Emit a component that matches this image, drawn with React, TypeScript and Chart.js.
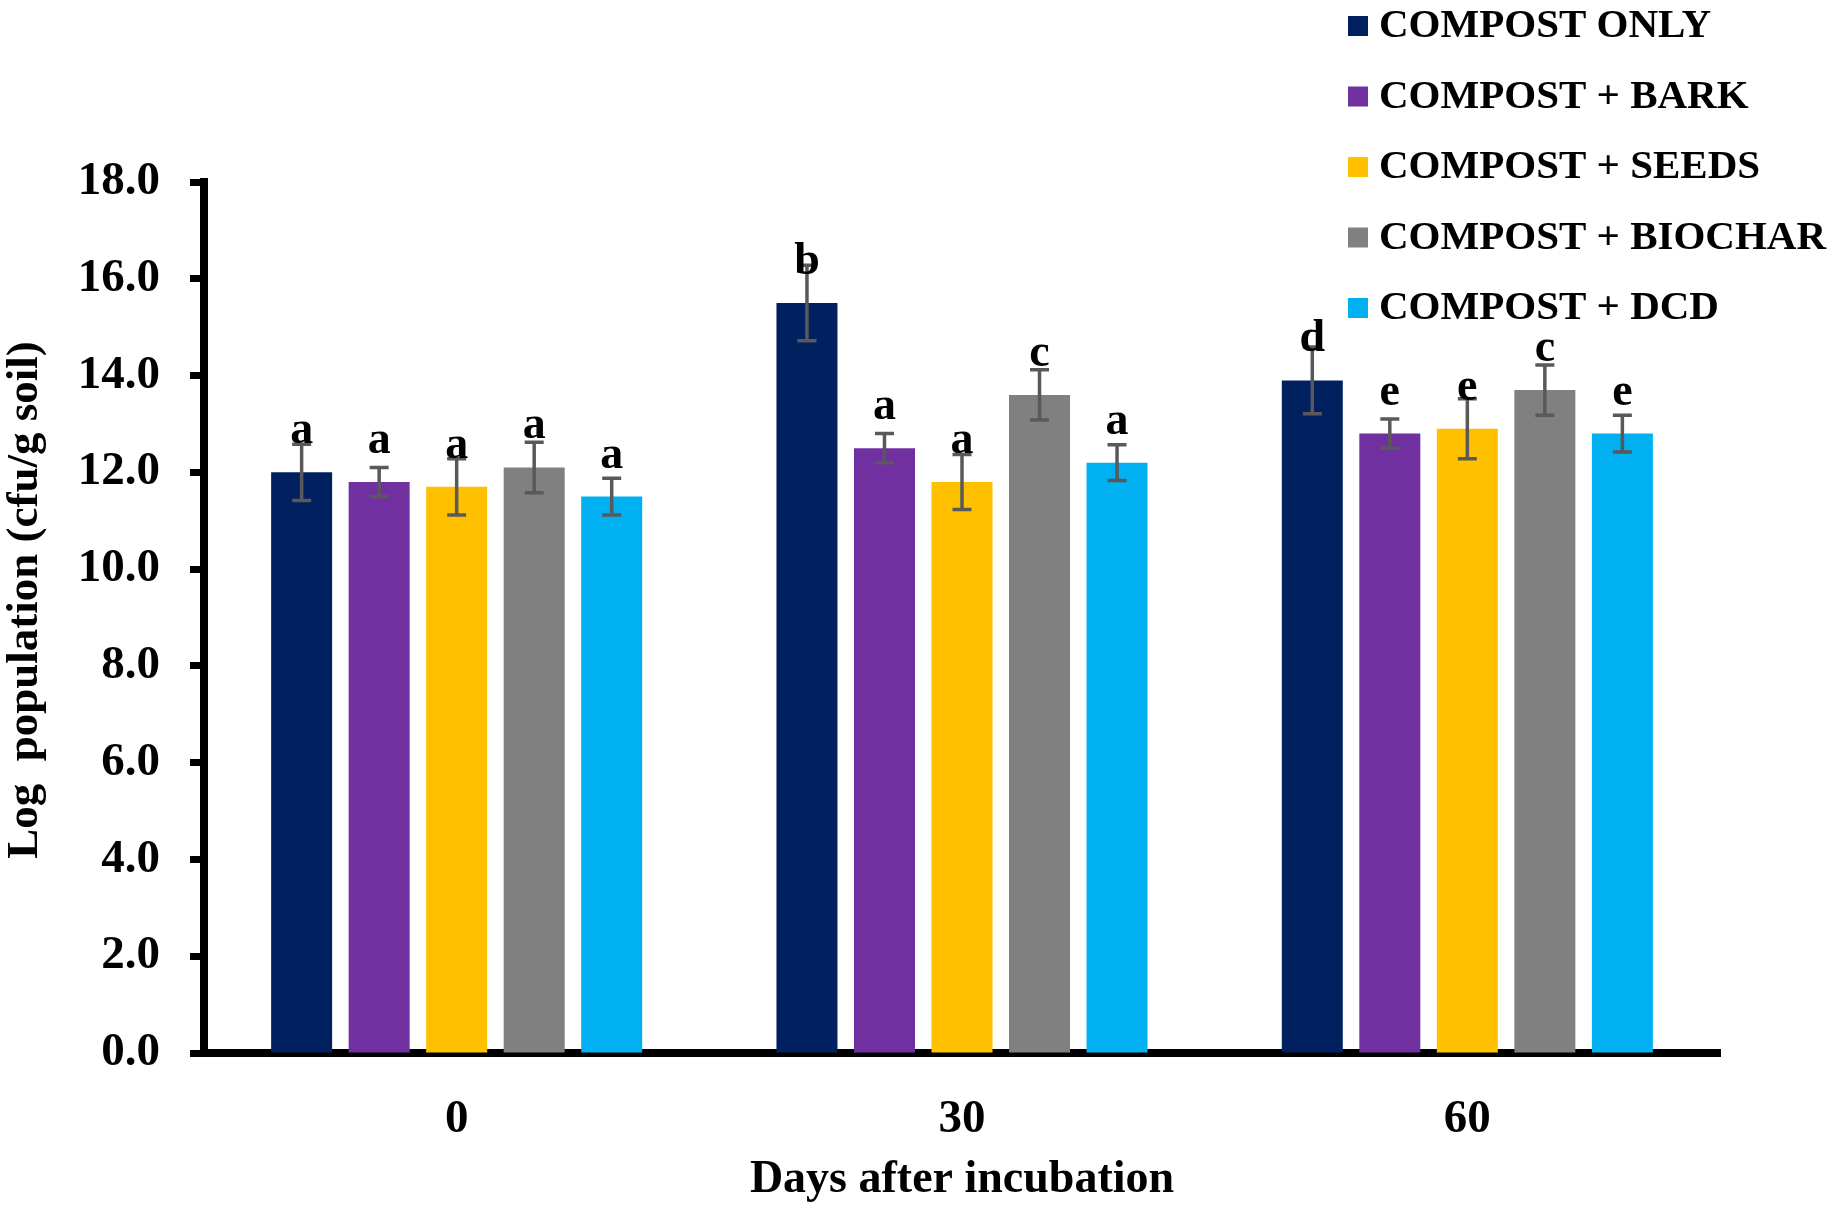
import React, { useEffect, useRef } from "react";
import { Chart, registerables } from "chart.js";

Chart.register(...registerables);

const categories = ["0", "30", "60"];
const seriesLabels = [
  "COMPOST ONLY",
  "COMPOST + BARK",
  "COMPOST + SEEDS",
  "COMPOST + BIOCHAR",
  "COMPOST + DCD",
];
const seriesColors = ["#002060", "#7030A0", "#FFC000", "#808080", "#00B0F0"];

const compostOnly = [12.0, 15.5, 13.9];
const compostBark = [11.8, 12.5, 12.8];
const compostSeeds = [11.7, 11.8, 12.9];
const compostBiochar = [12.1, 13.6, 13.7];
const compostDcd = [11.5, 12.2, 12.8];

const errOnly = [0.58, 0.78, 0.69];
const errBark = [0.3, 0.3, 0.3];
const errSeeds = [0.58, 0.57, 0.62];
const errBiochar = [0.52, 0.52, 0.52];
const errDcd = [0.38, 0.37, 0.38];

const lettersOnly = ["a", "b", "d"];
const lettersBark = ["a", "a", "e"];
const lettersSeeds = ["a", "a", "e"];
const lettersBiochar = ["a", "c", "c"];
const lettersDcd = ["a", "a", "e"];

const yMin = 0;
const yMax = 18;
const yStep = 2;
const yTitle = "Log  population (cfu/g soil)";
const xTitle = "Days after incubation";

const seriesValues = [compostOnly, compostBark, compostSeeds, compostBiochar, compostDcd];
const seriesErrors = [errOnly, errBark, errSeeds, errBiochar, errDcd];
const seriesLetters = [lettersOnly, lettersBark, lettersSeeds, lettersBiochar, lettersDcd];

const SERIF = "'Liberation Serif', 'Times New Roman', Times, serif";

const errorBarPlugin = {
  id: "errorBars",
  afterDatasetsDraw(chart: any) {
    const ctx = chart.ctx;
    const yScale = chart.scales.y;
    ctx.save();
    chart.data.datasets.forEach((ds: any, i: number) => {
      const meta = chart.getDatasetMeta(i);
      meta.data.forEach((el: any, j: number) => {
        const v = ds.data[j];
        const e = ds.errors[j];
        const yTop = yScale.getPixelForValue(v + e);
        const yBot = yScale.getPixelForValue(v - e);
        const x = el.x;
        ctx.strokeStyle = "#595959";
        ctx.lineWidth = 3.5;
        ctx.beginPath();
        ctx.moveTo(x, yTop);
        ctx.lineTo(x, yBot);
        ctx.moveTo(x - 9.5, yTop);
        ctx.lineTo(x + 9.5, yTop);
        ctx.moveTo(x - 9.5, yBot);
        ctx.lineTo(x + 9.5, yBot);
        ctx.stroke();
      });
    });
    chart.data.datasets.forEach((ds: any, i: number) => {
      const meta = chart.getDatasetMeta(i);
      meta.data.forEach((el: any, j: number) => {
        const letter = ds.letters[j];
        ctx.fillStyle = "#000";
        ctx.font = `bold 46px ${SERIF}`;
        ctx.textAlign = "center";
        ctx.textBaseline = "alphabetic";
        ctx.fillText(letter, el.x, el.y - 29);
      });
    });
    ctx.restore();
  },
};

const yTitlePlugin = {
  id: "yTitle",
  afterDraw(chart: any) {
    const ctx = chart.ctx;
    ctx.save();
    ctx.translate(25, 600);
    ctx.rotate(-Math.PI / 2);
    ctx.fillStyle = "#000";
    ctx.font = `bold 45px ${SERIF}`;
    ctx.textAlign = "center";
    ctx.textBaseline = "middle";
    ctx.fillText(yTitle, 0, 0);
    ctx.restore();
  },
};

const legendPlugin = {
  id: "customLegend",
  afterDraw(chart: any) {
    const ctx = chart.ctx;
    ctx.save();
    chart.data.datasets.forEach((ds: any, i: number) => {
      const cy = 26 + i * 70.5;
      ctx.fillStyle = ds.backgroundColor;
      ctx.fillRect(1348, cy - 10, 20, 20);
      ctx.fillStyle = "#000";
      ctx.font = `bold 41px ${SERIF}`;
      ctx.textAlign = "left";
      ctx.textBaseline = "alphabetic";
      ctx.fillText(ds.label, 1379, cy + 11);
    });
    ctx.restore();
  },
};

export default function App() {
  const canvasRef = useRef<HTMLCanvasElement | null>(null);

  useEffect(() => {
    if (!canvasRef.current) return;
    const chart = new Chart(canvasRef.current, {
      type: "bar",
      data: {
        labels: categories,
        datasets: seriesLabels.map((label, i) => ({
          label,
          data: seriesValues[i],
          errors: seriesErrors[i],
          letters: seriesLetters[i],
          backgroundColor: seriesColors[i],
          borderWidth: 0,
          categoryPercentage: 0.767,
          barPercentage: 0.787,
        })) as any,
      },
      options: {
        responsive: false,
        devicePixelRatio: 1,
        animation: false,
        layout: { padding: { left: 0, right: 120, top: 182, bottom: 0 } },
        plugins: {
          legend: { display: false },
          tooltip: { enabled: false },
          title: { display: false },
        },
        scales: {
          x: {
            z: 1,
            grid: { display: false },
            border: { display: true, color: "#000", width: 8 },
            ticks: {
              color: "#000",
              padding: 31,
              font: { family: SERIF, size: 47, weight: "bold", lineHeight: 1.2 },
            },
            title: {
              display: true,
              text: xTitle,
              color: "#000",
              padding: 0,
              font: { family: SERIF, size: 46, weight: "bold", lineHeight: 1.2 },
            },
            afterFit: (s: any) => {
              s.height = 155;
            },
          },
          y: {
            z: 1,
            min: yMin,
            max: yMax,
            grid: {
              display: true,
              drawOnChartArea: false,
              drawTicks: true,
              tickLength: 14,
              tickWidth: 7,
              tickColor: "#000",
              lineWidth: 1,
            },
            border: { display: true, color: "#000", width: 8 },
            ticks: {
              stepSize: yStep,
              color: "#000",
              padding: 30,
              font: { family: SERIF, size: 47, weight: "bold", lineHeight: 1.2 },
              callback: (v: any) => Number(v).toFixed(1),
            },
            title: { display: false },
            afterFit: (s: any) => {
              s.width = 204;
            },
          },
        },
      } as any,
      plugins: [errorBarPlugin, legendPlugin, yTitlePlugin],
    });
    return () => chart.destroy();
  }, []);

  return (
    <div
      style={{
        position: "fixed",
        left: 0,
        top: 0,
        width: 1840,
        height: 1208,
        background: "#fff",
      }}
    >
      <canvas ref={canvasRef} width={1840} height={1208} style={{ display: "block" }} />
    </div>
  );
}
